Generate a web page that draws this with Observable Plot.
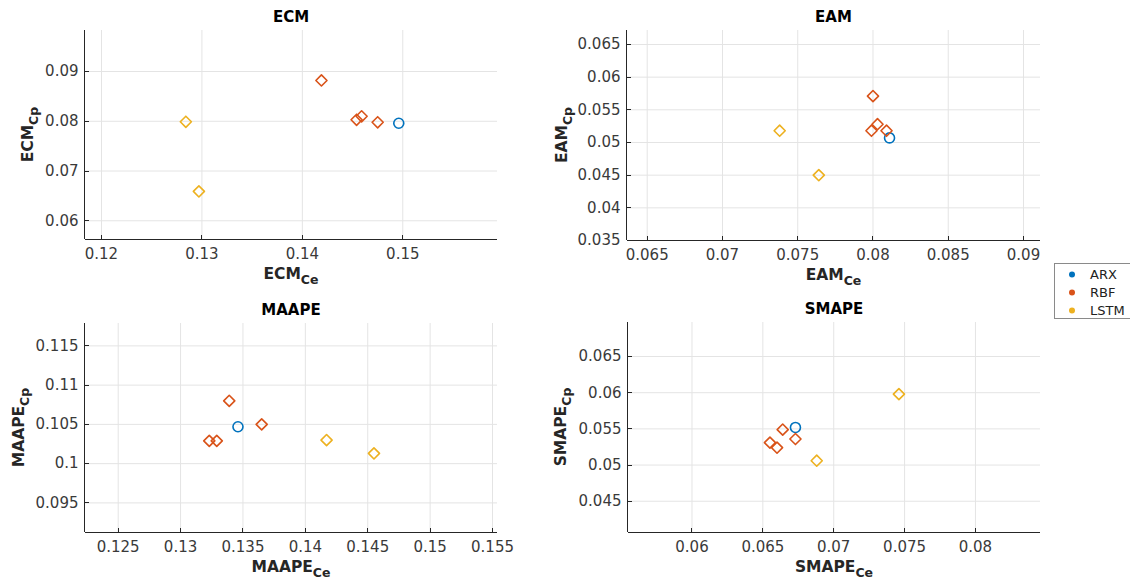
<!DOCTYPE html>
<html>
<head>
<meta charset="utf-8">
<script src="https://cdn.jsdelivr.net/npm/d3@7"></script>
<script src="https://cdn.jsdelivr.net/npm/@observablehq/plot@0.6"></script>
<style>
  body { margin: 0; background: #fff; }
  #wrap { position: relative; width: 1130px; height: 583px; background: #fff; overflow: hidden; }
  .panel { position: absolute; }
</style>
</head>
<body>
<div id="wrap"></div>
<script>
// ---------- data ----------
const models = ["ARX", "RBF", "RBF", "RBF", "RBF", "LSTM", "LSTM"];
const legendModels = ["ARX", "RBF", "LSTM"];
const modelColors = ["#0072BD", "#D95319", "#EDB120"];
const modelSymbols = ["circle", "diamond2", "diamond2"];

const ECM_Ce = [0.1496, 0.1419, 0.1454, 0.1459, 0.1475, 0.1284, 0.1297];
const ECM_Cp = [0.0796, 0.0882, 0.0803, 0.0810, 0.0798, 0.0799, 0.0659];
const EAM_Ce = [0.0811, 0.0800, 0.0803, 0.0799, 0.0809, 0.0738, 0.0764];
const EAM_Cp = [0.0507, 0.0571, 0.0528, 0.0518, 0.0518, 0.0518, 0.0450];
const MAAPE_Ce = [0.1346, 0.1339, 0.1365, 0.1323, 0.1329, 0.1417, 0.1455];
const MAAPE_Cp = [0.1047, 0.1080, 0.1050, 0.1029, 0.1029, 0.1030, 0.1013];
const SMAPE_Ce = [0.0673, 0.0664, 0.0673, 0.0655, 0.0660, 0.0746, 0.0688];
const SMAPE_Cp = [0.0552, 0.0549, 0.0536, 0.0531, 0.0524, 0.0598, 0.0506];

const ECM_xTicks = [0.12, 0.13, 0.14, 0.15];
const ECM_yTicks = [0.06, 0.07, 0.08, 0.09];
const EAM_xTicks = [0.065, 0.07, 0.075, 0.08, 0.085, 0.09];
const EAM_yTicks = [0.035, 0.04, 0.045, 0.05, 0.055, 0.06, 0.065];
const MAAPE_xTicks = [0.125, 0.13, 0.135, 0.14, 0.145, 0.15, 0.155];
const MAAPE_yTicks = [0.095, 0.1, 0.105, 0.11, 0.115];
const SMAPE_xTicks = [0.06, 0.065, 0.07, 0.075, 0.08];
const SMAPE_yTicks = [0.045, 0.05, 0.055, 0.06, 0.065];

// ---------- layout ----------
const panels = [
  {name: "ECM", ce: ECM_Ce, cp: ECM_Cp, xt: ECM_xTicks, yt: ECM_yTicks,
   xdom: [0.11841, 0.15943], ydom: [0.05624, 0.09824],
   left: 0, top: 0, W: 540, H: 290, mL: 85, mR: 43, mT: 30, mB: 51, ylabX: 33},
  {name: "EAM", ce: EAM_Ce, cp: EAM_Cp, xt: EAM_xTicks, yt: EAM_yTicks,
   xdom: [0.06369, 0.09113], ydom: [0.035, 0.06714],
   left: 540, top: 0, W: 540, H: 290, mL: 87, mR: 40, mT: 30, mB: 50, ylabX: 27},
  {name: "MAAPE", ce: MAAPE_Ce, cp: MAAPE_Cp, xt: MAAPE_xTicks, yt: MAAPE_yTicks,
   xdom: [0.12238, 0.1554], ydom: [0.09123, 0.11785],
   left: 0, top: 290, W: 540, H: 293, mL: 85, mR: 43, mT: 33, mB: 51, ylabX: 24},
  {name: "SMAPE", ce: SMAPE_Ce, cp: SMAPE_Cp, xt: SMAPE_xTicks, yt: SMAPE_yTicks,
   xdom: [0.05552, 0.08459], ydom: [0.04068, 0.0697],
   left: 540, top: 290, W: 540, H: 293, mL: 88, mR: 40, mT: 32, mB: 51, ylabX: 26}
];

const FONT = "DejaVu Sans, sans-serif";
const fmt = d => String(d);

function decor(xt, yt) {
  return (index, scales, values, dims) => {
    const {width, height, marginLeft, marginRight, marginTop, marginBottom} = dims;
    const x0 = marginLeft, x1 = width - marginRight, y0 = marginTop, y1 = height - marginBottom;
    const g = d3.create("svg:g").attr("stroke", "#262626").attr("fill", "none").attr("stroke-width", 1);
    g.append("line").attr("x1", x0).attr("x2", x1).attr("y1", y1 + 0.5).attr("y2", y1 + 0.5);
    g.append("line").attr("x1", x0 - 0.5).attr("x2", x0 - 0.5).attr("y1", y0).attr("y2", y1);
    for (const t of xt) {
      const x = Math.round(scales.x(t)) + 0.5;
      g.append("line").attr("x1", x).attr("x2", x).attr("y1", y1).attr("y2", y1 - 4);
    }
    for (const t of yt) {
      const y = Math.round(scales.y(t)) + 0.5;
      g.append("line").attr("x1", x0).attr("x2", x0 + 4).attr("y1", y).attr("y2", y);
    }
    return g.node();
  };
}

function labels(p) {
  return (index, scales, values, dims) => {
    const {width, height, marginLeft, marginRight, marginTop, marginBottom} = dims;
    const cx = (marginLeft + width - marginRight) / 2;
    const cy = (marginTop + height - marginBottom) / 2;
    const g = d3.create("svg:g").attr("font-family", FONT).attr("font-weight", "bold");
    g.append("text").attr("x", cx).attr("y", marginTop - 8).attr("text-anchor", "middle")
      .attr("font-size", 15).attr("fill", "#000").text(p.name);
    const xl = g.append("text").attr("x", cx).attr("y", height - marginBottom + 40)
      .attr("text-anchor", "middle").attr("font-size", 15.5).attr("fill", "#262626");
    xl.append("tspan").text(p.name);
    xl.append("tspan").attr("font-size", 12.5).attr("dy", 5).text("Ce");
    const yl = g.append("text").attr("transform", `translate(${p.ylabX},${cy}) rotate(-90)`)
      .attr("text-anchor", "middle").attr("font-size", 15.5).attr("fill", "#262626");
    yl.append("tspan").text(p.name);
    yl.append("tspan").attr("font-size", 12.5).attr("dy", 5).text("Cp");
    return g.node();
  };
}

const wrap = document.getElementById("wrap");
for (const p of panels) {
  const rows = models.map((m, i) => ({model: m, ce: p.ce[i], cp: p.cp[i]}));
  const chart = Plot.plot({
    width: p.W, height: p.H,
    marginLeft: p.mL, marginRight: p.mR, marginTop: p.mT, marginBottom: p.mB,
    style: {fontFamily: FONT, fontSize: "15px", color: "#333", background: "transparent", overflow: "visible"},
    x: {domain: p.xdom, axis: null},
    y: {domain: p.ydom, axis: null},
    color: {domain: legendModels, range: modelColors},
    symbol: {domain: legendModels, range: modelSymbols},
    marks: [
      Plot.gridX(p.xt, {stroke: "#e4e4e4", strokeOpacity: 1}),
      Plot.gridY(p.yt, {stroke: "#e4e4e4", strokeOpacity: 1}),
      Plot.axisX(p.xt, {tickSize: 0, tickPadding: 9, tickFormat: fmt, fontSize: 15, fill: "#3a3a3a", label: null}),
      Plot.axisY(p.yt, {tickSize: 0, tickPadding: 7, tickFormat: fmt, fontSize: 15, fill: "#3a3a3a", label: null}),
      decor(p.xt, p.yt),
      Plot.dot(rows, {x: "ce", y: "cp", stroke: "model", symbol: "model", r: 5, strokeWidth: 1.6, strokeLinejoin: "round"}),
      labels(p)
    ]
  });
  chart.classList.add("panel");
  chart.style.left = p.left + "px";
  chart.style.top = p.top + "px";
  wrap.appendChild(chart);
}

// legend
const leg = d3.create("svg").attr("width", 80).attr("height", 60)
  .attr("class", "panel").style("left", "1053px").style("top", "262px");
leg.append("rect").attr("x", 1.5).attr("y", 1.5).attr("width", 90).attr("height", 55)
  .attr("fill", "#fff").attr("stroke", "#8a8a8a").attr("stroke-width", 1);
legendModels.forEach((m, i) => {
  const y = 12.5 + i * 18;
  leg.append("circle").attr("cx", 19).attr("cy", y).attr("r", 3).attr("fill", modelColors[i]);
  leg.append("text").attr("x", 37).attr("y", y).attr("dy", "0.36em")
    .attr("font-family", FONT).attr("font-size", 13).attr("fill", "#222").text(m);
});
wrap.appendChild(leg.node());
</script>
</body>
</html>
